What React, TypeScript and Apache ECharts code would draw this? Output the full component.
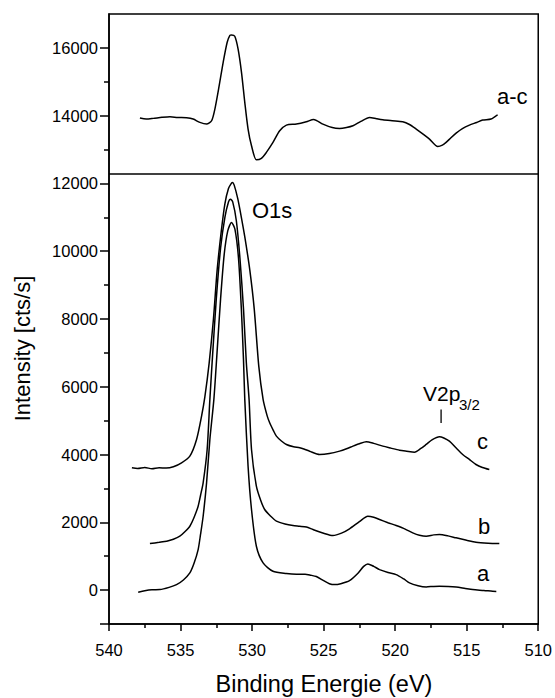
import React, { useEffect, useRef } from "react";
import * as echarts from "echarts";

// Binding energy (eV) vs intensity (cts/s)
const curveA: [number, number][] = [
  [537.96, -65], [537.5, -20], [537.0, 10], [536.44, 15], [535.8, 80], [535.28, 162],
  [534.8, 300], [534.35, 508], [534.05, 800], [533.77, 1196], [533.6, 1650], [533.42, 2180],
  [533.18, 3167], [532.95, 4446], [532.67, 5628], [532.45, 7000], [532.2, 8600], [531.95, 9900],
  [531.7, 10600], [531.44, 10848], [531.2, 10650], [530.95, 9800], [530.75, 8300], [530.6, 6800],
  [530.51, 5628], [530.28, 3657], [530.04, 2378], [529.7, 1294], [529.23, 803], [528.54, 555],
  [527.6, 490], [526.9, 470], [526.3, 470], [525.9, 440], [525.51, 400], [525.0, 280],
  [524.6, 190], [524.23, 162], [523.8, 190], [523.19, 280], [522.6, 500], [522.2, 700],
  [521.91, 774], [521.5, 700], [521.09, 606], [520.5, 520], [519.93, 458], [519.4, 330],
  [519.0, 212], [518.4, 130], [517.83, 95], [517.3, 110], [516.91, 112], [516.3, 110],
  [515.74, 95], [515.1, 50], [514.58, 15], [513.8, -10], [513.19, -35], [512.93, -40],
];

const curveB: [number, number][] = [
  [537.14, 1374], [536.5, 1410], [535.97, 1442], [535.5, 1500], [535.05, 1590], [534.7, 1720],
  [534.35, 1885], [534.05, 2150], [533.77, 2476], [533.6, 2800], [533.42, 3167], [533.14, 4150],
  [532.95, 5628], [532.75, 7000], [532.5, 8600], [532.2, 10100], [531.9, 11000], [531.65, 11450],
  [531.51, 11536], [531.35, 11450], [531.1, 10900], [530.85, 9800], [530.6, 8300], [530.4, 6700],
  [530.21, 5628], [530.04, 4150], [529.7, 3067], [529.4, 2650], [529.12, 2378], [528.7, 2180],
  [528.3, 2033], [527.7, 1950], [527.14, 1905], [526.67, 1885], [526.2, 1860], [525.74, 1787],
  [525.0, 1680], [524.35, 1610], [523.75, 1680], [523.19, 1808], [522.5, 2020], [521.91, 2180],
  [521.5, 2150], [521.09, 2083], [520.5, 1990], [519.93, 1905], [519.3, 1800], [518.77, 1690],
  [518.3, 1620], [517.83, 1590], [517.3, 1630], [516.91, 1640], [516.3, 1600], [515.74, 1542],
  [515.0, 1470], [514.35, 1413], [513.5, 1385], [512.72, 1374],
];

const curveC: [number, number][] = [
  [538.4, 3610], [538.0, 3590], [537.5, 3620], [537.0, 3580], [536.5, 3610], [536.0, 3600],
  [535.5, 3640], [534.93, 3757], [534.35, 3953], [533.88, 4446], [533.53, 5135], [533.3, 5700],
  [533.0, 6700], [532.7, 8000], [532.44, 9450], [532.15, 10600], [531.9, 11400], [531.65, 11850],
  [531.45, 12000], [531.37, 12030], [531.25, 11950], [531.0, 11550], [530.75, 11000], [530.5, 10400],
  [530.16, 9450], [529.85, 8300], [529.53, 6600], [529.23, 5628], [528.95, 5150], [528.77, 4939],
  [528.5, 4700], [528.3, 4544], [527.95, 4400], [527.6, 4298], [527.1, 4230], [526.67, 4200],
  [526.3, 4150], [525.98, 4100], [525.28, 4003], [524.6, 4030], [523.88, 4101], [523.4, 4170],
  [522.95, 4248], [522.5, 4320], [522.02, 4378], [521.5, 4330], [520.86, 4248], [520.3, 4190],
  [519.7, 4130], [519.2, 4100], [518.65, 4071], [518.2, 4180], [517.83, 4298], [517.4, 4440],
  [516.91, 4526], [516.6, 4490], [516.21, 4396], [515.75, 4200], [515.28, 4003], [514.8, 3850],
  [514.35, 3707], [513.9, 3620], [513.42, 3560],
];

const curveDiff: [number, number][] = [
  [537.84, 13929], [537.4, 13900], [536.9, 13920], [536.3, 13950], [535.74, 13968], [535.2, 13945],
  [534.58, 13938], [534.12, 13900], [533.65, 13801], [533.18, 13752], [532.83, 13850], [532.6, 14195],
  [532.3, 14883], [532.02, 15574], [531.74, 16165], [531.55, 16370], [531.44, 16381], [531.21, 16342],
  [530.98, 15968], [530.74, 15279], [530.51, 14393], [530.28, 13604], [530.04, 13111], [529.7, 12697],
  [529.35, 12738], [529.0, 12916], [528.54, 13211], [528.07, 13554], [527.6, 13722], [526.9, 13752],
  [526.21, 13820], [525.7, 13890], [525.05, 13752], [524.4, 13650], [523.88, 13624], [523.4, 13650],
  [522.95, 13702], [522.4, 13830], [521.79, 13949], [521.3, 13910], [520.86, 13879], [520.2, 13850],
  [519.47, 13820], [519.0, 13740], [518.53, 13604], [518.0, 13440], [517.6, 13309], [517.02, 13092],
  [516.7, 13130], [516.44, 13211], [516.1, 13350], [515.74, 13486], [515.3, 13620], [514.81, 13722],
  [514.3, 13800], [513.88, 13870], [513.3, 13900], [512.84, 14027],
];

// V2p3/2 marker position
const v2pMarker: [number, number][] = [[516.79, 4934], [516.79, 5326]];

const yMajorLabels = [0, 2000, 4000, 6000, 8000, 10000, 12000, 14000, 16000];
const yMajorTicks = [-1000, ...yMajorLabels];
const yMinorTicks = [1000, 3000, 5000, 7000, 9000, 11000, 13000, 15000];
const panelDivider = 12280;

const FONT = "'Liberation Sans', Arial, Helvetica, sans-serif";

export default function App() {
  const ref = useRef<HTMLDivElement>(null);
  useEffect(() => {
    if (!ref.current) return;
    const chart = echarts.init(ref.current, undefined, { renderer: "svg" });
    const lineSeries = (data: [number, number][], extra: any = {}) => ({
      type: "line",
      data,
      showSymbol: false,
      symbol: "none",
      smooth: 0.25,
      lineStyle: { color: "#000", width: 1.5 },
      silent: true,
      ...extra,
    });
    const txt = (text: string, x: number, y: number, size = 22, align = "center") => ({
      type: "text",
      x,
      y,
      style: {
        text,
        fill: "#000",
        font: `${size}px ${FONT}`,
        align,
        verticalAlign: "middle",
      },
    });
    chart.setOption({
      animation: false,
      backgroundColor: "#fff",
      grid: {
        left: 109,
        right: 16,
        top: 14,
        bottom: 74,
        show: true,
        borderColor: "#000",
        borderWidth: 1.5,
        backgroundColor: "transparent",
      },
      xAxis: {
        type: "value",
        min: 510,
        max: 540,
        interval: 5,
        inverse: true,
        axisLine: { show: true, onZero: false, lineStyle: { color: "#000", width: 1.5 } },
        axisTick: { show: true, length: 7, lineStyle: { color: "#000", width: 1.5 } },
        minorTick: { show: true, splitNumber: 2, length: 4, lineStyle: { color: "#000", width: 1.5 } },
        axisLabel: { color: "#000", fontSize: 16.5, fontFamily: FONT, margin: 17, formatter: (v: number) => String(v) },
        splitLine: { show: false },
        minorSplitLine: { show: false },
      },
      yAxis: [
        {
          type: "value",
          min: -1000,
          max: 17000,
          interval: 1000,
          position: "left",
          axisLine: { show: true, lineStyle: { color: "#000", width: 1.5 } },
          axisTick: {
            show: true,
            length: 9,
            customValues: yMajorTicks,
            lineStyle: { color: "#000", width: 1.5 },
          },
          axisLabel: {
            color: "#000",
            fontSize: 16.5,
            fontFamily: FONT,
            margin: 11,
            customValues: yMajorLabels,
            formatter: (v: number) => String(v),
          },
          splitLine: { show: false },
        },
        {
          type: "value",
          min: -1000,
          max: 17000,
          interval: 1000,
          position: "left",
          axisLine: { show: false },
          axisTick: {
            show: true,
            length: 5,
            customValues: yMinorTicks,
            lineStyle: { color: "#000", width: 1.5 },
          },
          axisLabel: { show: false },
          splitLine: { show: false },
        },
      ],
      series: [
        lineSeries(curveA),
        lineSeries(curveB),
        lineSeries(curveC),
        lineSeries(curveDiff, {
          markLine: {
            silent: true,
            symbol: "none",
            label: { show: false },
            lineStyle: { color: "#000", width: 1.5, type: "solid" },
            data: [{ yAxis: panelDivider }],
          },
        }),
        lineSeries(v2pMarker, { smooth: false, lineStyle: { color: "#000", width: 1.3 } }),
      ],
      graphic: [
        {
          type: "text",
          x: 22,
          y: 348.5,
          rotation: Math.PI / 2,
          style: {
            text: "Intensity [cts/s]",
            fill: "#000",
            font: `22px ${FONT}`,
            align: "center",
            verticalAlign: "middle",
          },
        },
        txt("Binding Energie (eV)", 324, 684, 23.5),
        txt("a-c", 497, 96, 22, "left"),
        txt("O1s", 252, 210, 22, "left"),
        txt("c", 477, 441, 22, "left"),
        txt("b", 478, 526.5, 22, "left"),
        txt("a", 477, 573, 22, "left"),
        txt("V2p", 423, 393, 21, "left"),
        txt("3/2", 459, 404, 15, "left"),
      ],
    });
    return () => chart.dispose();
  }, []);
  return (
    <div
      ref={ref}
      style={{ position: "fixed", left: 0, top: 0, width: 555, height: 698, background: "#fff" }}
    />
  );
}
